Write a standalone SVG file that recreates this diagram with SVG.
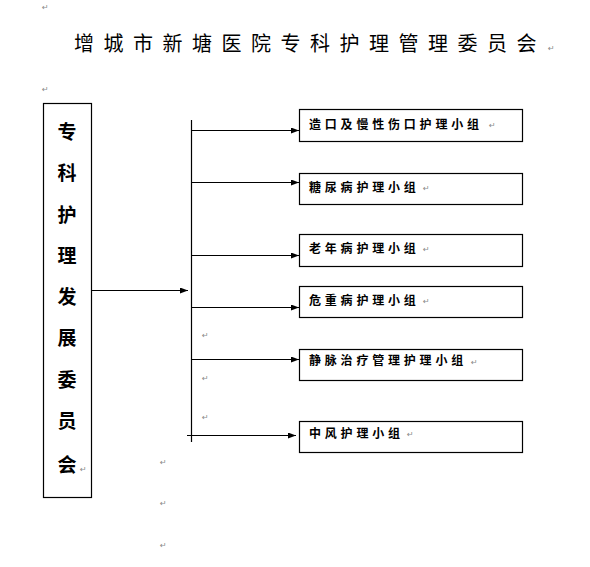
<svg xmlns="http://www.w3.org/2000/svg" width="590" height="567" viewBox="0 0 590 567">
<style>
.box{fill:#fff;stroke:#000;stroke-width:1.2}
.ln{stroke:#000;stroke-width:1.2;fill:none}
.title{font-family:"Noto Sans CJK SC","Noto Sans CJK JP",sans-serif;font-size:20px;letter-spacing:9.5px;fill:#000}
.vt{font-family:"Noto Sans CJK SC","Noto Sans CJK JP",sans-serif;font-size:19px;font-weight:bold;fill:#000;text-anchor:middle}
.lb{font-family:"Noto Sans CJK SC","Noto Sans CJK JP",sans-serif;font-size:12px;font-weight:bold;letter-spacing:3.8px;fill:#000}
.rm{font-family:"DejaVu Sans",sans-serif;font-size:8px;fill:#888}
</style>
<defs>
<marker id="ah" markerWidth="8" markerHeight="6" refX="8" refY="3" orient="auto" markerUnits="userSpaceOnUse">
<path d="M0,0 L8,3 L0,6 Z" fill="#000"/>
</marker>
</defs>
<rect width="590" height="567" fill="#fff"/>
<g id="marks">
<text class="rm" x="42" y="10">↵</text>
<text class="rm" x="42" y="92">↵</text>
<text class="rm" x="202" y="338">↵</text>
<text class="rm" x="202" y="381">↵</text>
<text class="rm" x="202" y="420">↵</text>
<text class="rm" x="160" y="465">↵</text>
<text class="rm" x="160" y="506">↵</text>
<text class="rm" x="160" y="548">↵</text>
</g>
<g id="title">
<text class="title" x="74" y="51">增城市新塘医院专科护理管理委员会</text>
<text class="rm" x="548" y="51">↵</text>
</g>
<g id="committee">
<rect class="box" x="43.5" y="103.5" width="48" height="394"/>
<text class="vt" x="67" y="139">专</text>
<text class="vt" x="67" y="180">科</text>
<text class="vt" x="67" y="222">护</text>
<text class="vt" x="67" y="263">理</text>
<text class="vt" x="67" y="304">发</text>
<text class="vt" x="67" y="345">展</text>
<text class="vt" x="67" y="387">委</text>
<text class="vt" x="67" y="428">员</text>
<text class="vt" x="67" y="472">会</text>
<text class="rm" x="80" y="472">↵</text>
</g>
<g id="connectors">
<line class="ln" x1="91.5" y1="290.5" x2="188" y2="290.5" marker-end="url(#ah)"/>
<line class="ln" x1="191.5" y1="120" x2="191.5" y2="442"/>
<line class="ln" x1="191.5" y1="130.5" x2="299" y2="130.5" marker-end="url(#ah)"/>
<line class="ln" x1="191.5" y1="182.5" x2="299" y2="182.5" marker-end="url(#ah)"/>
<line class="ln" x1="191.5" y1="255.5" x2="299" y2="255.5" marker-end="url(#ah)"/>
<line class="ln" x1="191.5" y1="307.5" x2="299" y2="307.5" marker-end="url(#ah)"/>
<line class="ln" x1="191.5" y1="359.5" x2="299" y2="359.5" marker-end="url(#ah)"/>
<line class="ln" x1="187" y1="435.5" x2="296" y2="435.5" marker-end="url(#ah)"/>
</g>
<g id="g1">
<rect class="box" x="299.5" y="109.5" width="223" height="32"/>
<text class="lb" x="309" y="128.5">造口及慢性伤口护理小组</text>
<text class="rm" x="489" y="128">↵</text>
</g>
<g id="g2">
<rect class="box" x="299.5" y="173.5" width="223" height="31"/>
<text class="lb" x="309" y="191.5">糖尿病护理小组</text>
<text class="rm" x="423" y="191">↵</text>
</g>
<g id="g3">
<rect class="box" x="299.5" y="234.5" width="223" height="32"/>
<text class="lb" x="309" y="252.5">老年病护理小组</text>
<text class="rm" x="423" y="252">↵</text>
</g>
<g id="g4">
<rect class="box" x="299.5" y="286.5" width="223" height="31"/>
<text class="lb" x="309" y="304.5">危重病护理小组</text>
<text class="rm" x="423" y="304">↵</text>
</g>
<g id="g5">
<rect class="box" x="299.5" y="349.5" width="223" height="31"/>
<text class="lb" x="309" y="365">静脉治疗管理护理小组</text>
<text class="rm" x="471" y="365">↵</text>
</g>
<g id="g6">
<rect class="box" x="299.5" y="421.5" width="223" height="31"/>
<text class="lb" x="309" y="437.5">中风护理小组</text>
<text class="rm" x="407" y="437">↵</text>
</g>
</svg>
